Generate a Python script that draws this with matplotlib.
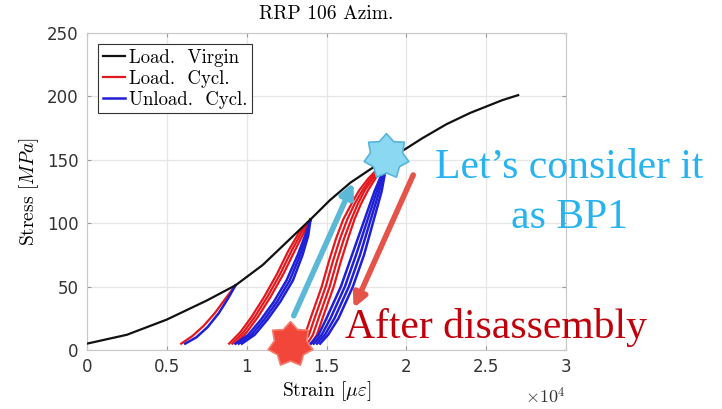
import matplotlib
matplotlib.use('Agg')
from matplotlib import pyplot as plt
from matplotlib.path import Path
from matplotlib.ticker import FuncFormatter

plt.rcParams['mathtext.fontset'] = 'cm'
plt.rcParams['axes.unicode_minus'] = False

# virgin loading curve (strain in micro-strain, stress in MPa)
virgin_strain = [0, 2500, 5000, 7500, 9300, 11000, 12500, 14000, 15200, 16500,
                 17800, 18800, 20000, 21000, 22500, 24000, 25000, 26000, 27000]
virgin_stress = [5, 12, 24, 39, 51, 67, 85, 103, 118, 132,
                 143, 150, 159, 167, 178, 187, 192, 197, 201]

# cycle 1 (peak ~51 MPa)
c1_load_stress = [5, 11, 19, 29, 41, 51]
c1_load = [[5900, 6600, 7300, 8000, 8700, 9300]]
c1_unload_stress = [5, 10, 18, 29, 41, 51]
c1_unload = [[6150, 6850, 7550, 8250, 8850, 9300]]

# cycle 2 (peak ~103 MPa)
c2_load_stress = [5, 14, 26, 42, 60, 78, 93, 103]
c2_load = [[8900, 9600, 10300, 11100, 11900, 12600, 13300, 14000],
           [9100, 9800, 10500, 11300, 12100, 12800, 13450, 14000],
           [9300, 10000, 10700, 11500, 12300, 13000, 13600, 14000]]
c2_unload_stress = [5, 12, 24, 38, 55, 75, 90, 103]
c2_unload = [[9300, 10100, 10900, 11700, 12500, 13200, 13650, 14000],
             [9500, 10300, 11100, 11900, 12700, 13350, 13750, 14000],
             [9700, 10500, 11300, 12100, 12900, 13500, 13850, 14000]]

# cycle 3 (peak ~149 MPa)
c3_load_stress = [5, 12, 25, 50, 70, 88, 103, 115, 126, 135, 143, 149]
c3_load = [[13300, 13650, 14000, 14700, 15150, 15600, 16050, 16550, 17050, 17600, 18200, 18800],
           [13550, 13900, 14250, 14950, 15400, 15850, 16300, 16750, 17250, 17750, 18300, 18800],
           [13800, 14150, 14500, 15200, 15650, 16100, 16550, 16950, 17400, 17900, 18350, 18800],
           [14050, 14400, 14750, 15450, 15900, 16350, 16750, 17150, 17600, 18050, 18450, 18800]]
c3_unload_stress = [5, 12, 25, 50, 75, 100, 125, 149]
c3_unload = [[14000, 14500, 15000, 15900, 16600, 17300, 18000, 18800],
             [14200, 14700, 15250, 16150, 16850, 17500, 18150, 18800],
             [14400, 14900, 15500, 16400, 17100, 17700, 18300, 18800],
             [14600, 15100, 15750, 16650, 17350, 17900, 18450, 18800]]

x_ticks = [0, 5000, 10000, 15000, 20000, 25000, 30000]
y_ticks = [0, 50, 100, 150, 200, 250]

red = '#E3171C'
blue = '#1F1FD6'

fig = plt.figure(figsize=(7.22, 4.09), dpi=100)
ax = fig.add_axes([0.1205, 0.1443, 0.6635, 0.775])

ax.plot(virgin_strain, virgin_stress, color='#111111', lw=1.6, label='Load.  Virgin', zorder=3)

cycles = [(c1_load, c1_load_stress, c1_unload, c1_unload_stress),
          (c2_load, c2_load_stress, c2_unload, c2_unload_stress),
          (c3_load, c3_load_stress, c3_unload, c3_unload_stress)]
for loads, s_load, unloads, s_unload in cycles:
    for xs in loads:
        ax.plot(xs, s_load, color=red, lw=1.6, zorder=2)
    for xs in unloads:
        ax.plot(xs, s_unload, color=blue, lw=1.8, zorder=2)
ax.plot([], [], color=red, lw=1.6, label='Load.  Cycl.')
ax.plot([], [], color=blue, lw=1.8, label='Unload.  Cycl.')

ax.set_xlim(0, 30000)
ax.set_ylim(0, 250)
ax.set_xticks(x_ticks)
ax.set_yticks(y_ticks)
ax.xaxis.set_major_formatter(FuncFormatter(lambda v, p: f'{v / 1e4:g}'))
ax.tick_params(direction='in', length=3, top=True, right=True, color='#999999',
               labelcolor='#333333', labelsize=12, pad=6)
for lab in ax.get_xticklabels() + ax.get_yticklabels():
    lab.set_fontfamily('DejaVu Sans')
ax.grid(True, color='#E6E6E6', lw=0.9)
ax.set_axisbelow(True)
for sp in ax.spines.values():
    sp.set_color('#C8C8C8')

ax.set_title('RRP 106 Azim.', fontfamily='cmr10', fontsize=14, pad=10)
ax.set_xlabel(r'Strain [$\mu\varepsilon$]', fontfamily='cmr10', fontsize=14, labelpad=2)
ax.set_ylabel(r'Stress [$MPa$]', fontfamily='cmr10', fontsize=14, labelpad=4)
ax.text(1.0, -0.115, r'$\times10^{4}$', transform=ax.transAxes, ha='right', va='top',
        fontfamily='DejaVu Sans', fontsize=13, color='#333333')

leg = ax.legend(loc='upper left', fancybox=False, framealpha=1, edgecolor='#333333',
                prop={'family': 'cmr10', 'size': 13.5}, handlelength=1.2,
                handletextpad=0.2, borderpad=0.25, labelspacing=0.15,
                borderaxespad=0.6)
leg.get_frame().set_linewidth(0.8)

# arrows
ax.annotate('', xy=(16750, 134), xytext=(12875, 25),
            arrowprops=dict(arrowstyle='-|>,head_length=0.8,head_width=0.4',
                            color='#5BB8D6', lw=4), zorder=5)
ax.annotate('', xy=(16625, 31), xytext=(20500, 140),
            arrowprops=dict(arrowstyle='-|>,head_length=0.8,head_width=0.4',
                            color='#E5544A', lw=4), zorder=5)

# stars
star = Path.unit_regular_star(7, 0.72)
ax.plot([18750], [153], marker=star, markersize=33, color='#8AD8F2',
        markeredgecolor='#56B6D8', markeredgewidth=1.2, clip_on=False, zorder=6)
ax.plot([12690], [5], marker=star, markersize=33, color='#F2463B',
        markeredgecolor='#F47C6E', markeredgewidth=1.2, clip_on=False, zorder=6)

W, H = 722, 409
fig.text(569 / W, 1 - 178 / H, 'Let\u2019s consider it', ha='center', va='baseline',
         fontfamily='Liberation Serif', fontsize=30, color='#27B3EF')
fig.text(569 / W, 1 - 228 / H, 'as BP1', ha='center', va='baseline',
         fontfamily='Liberation Serif', fontsize=30, color='#27B3EF')
fig.text(345 / W, 1 - 338 / H, 'After disassembly', ha='left', va='baseline',
         fontfamily='Liberation Serif', fontsize=30, color='#C0000B')

fig.savefig('out.png', dpi=100)
